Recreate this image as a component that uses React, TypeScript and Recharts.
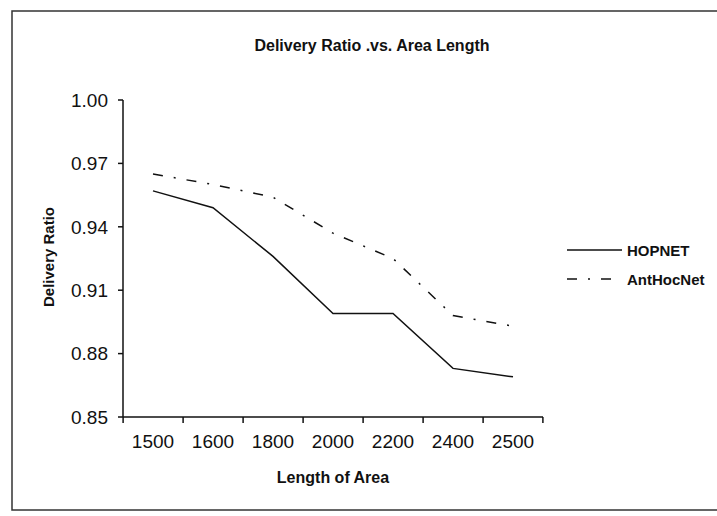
import React from 'react';
import { LineChart, Line, XAxis, YAxis, Customized } from 'recharts';

const lengths = ['1500', '1600', '1800', '2000', '2200', '2400', '2500'];
const hopnet = [0.957, 0.949, 0.926, 0.899, 0.899, 0.873, 0.869];
const antHocNet = [0.965, 0.96, 0.954, 0.937, 0.925, 0.898, 0.893];
const yTicks = [0.85, 0.88, 0.91, 0.94, 0.97, 1.0];
const seriesNames = ['HOPNET', 'AntHocNet'];
const chartTitle = 'Delivery Ratio .vs. Area Length';
const xTitle = 'Length of Area';
const yTitle = 'Delivery Ratio';

const data = lengths.map((l, i) => ({ length: l, hopnet: hopnet[i], anthocnet: antHocNet[i] }));

const W = 717;
const H = 516;
const FONT = '"Liberation Sans", Arial, sans-serif';
const DASH = '10 11 2 11';
const INK = '#111';

function XTick(props: any) {
  const { x, y, payload, index } = props;
  const half = 29.9;
  const last = index === lengths.length - 1;
  return (
    <g>
      <line x1={x - half} x2={x - half} y1={y} y2={y + 6} stroke={INK} strokeWidth={1.5} />
      {last && <line x1={x + half} x2={x + half} y1={y} y2={y + 6} stroke={INK} strokeWidth={1.5} />}
      <text x={x} y={y + 31} textAnchor="middle" fontSize={19} fontFamily={FONT} fill={INK}>
        {payload.value}
      </text>
    </g>
  );
}

function Decor() {
  return (
    <g>
      <rect x={12} y={11} width={760} height={499} fill="none" stroke="#333" strokeWidth={1.5} />
      <text x={372} y={51} textAnchor="middle" fontSize={16} fontWeight="bold" fontFamily={FONT} fill={INK}>
        {chartTitle}
      </text>
      <text x={333} y={483} textAnchor="middle" fontSize={16} fontWeight="bold" fontFamily={FONT} fill={INK}>
        {xTitle}
      </text>
      <text
        x={48}
        y={257}
        textAnchor="middle"
        dominantBaseline="central"
        transform="rotate(-90 48 257)"
        fontSize={15}
        fontWeight="bold"
        fontFamily={FONT}
        fill={INK}
      >
        {yTitle}
      </text>
      <line x1={567} x2={622} y1={250} y2={250} stroke={INK} strokeWidth={1.5} />
      <text x={627} y={256} fontSize={15} fontWeight="bold" fontFamily={FONT} fill={INK}>
        {seriesNames[0]}
      </text>
      <line x1={567} x2={612} y1={279} y2={279} stroke={INK} strokeWidth={1.5} strokeDasharray={DASH} />
      <text x={627} y={285} fontSize={15} fontWeight="bold" fontFamily={FONT} fill={INK}>
        {seriesNames[1]}
      </text>
    </g>
  );
}

export default function App() {
  return (
    <div style={{ position: 'absolute', left: 0, top: 0, width: W, height: H, overflow: 'hidden', background: '#fff' }}>
      <LineChart width={W} height={H} data={data} margin={{ top: 100, right: 174, bottom: 69, left: 0 }}>
        <XAxis
          dataKey="length"
          type="category"
          padding={{ left: 30, right: 30 }}
          tickLine={false}
          tickSize={0}
          tickMargin={0}
          interval={0}
          height={30}
          axisLine={{ stroke: INK, strokeWidth: 1.5 }}
          tick={<XTick />}
        />
        <YAxis
          domain={[0.85, 1.0]}
          ticks={yTicks}
          type="number"
          width={123}
          tickSize={5}
          tickMargin={10}
          tickFormatter={(v: number) => v.toFixed(2)}
          tick={{ fontSize: 19, fill: INK, fontFamily: FONT }}
          tickLine={{ stroke: INK, strokeWidth: 1.5 }}
          axisLine={{ stroke: INK, strokeWidth: 1.5 }}
          allowDataOverflow
        />
        <Line
          type="linear"
          dataKey="hopnet"
          name={seriesNames[0]}
          stroke={INK}
          strokeWidth={1.5}
          dot={false}
          isAnimationActive={false}
        />
        <Line
          type="linear"
          dataKey="anthocnet"
          name={seriesNames[1]}
          stroke={INK}
          strokeWidth={1.5}
          strokeDasharray={DASH}
          dot={false}
          isAnimationActive={false}
        />
        <Customized component={Decor} />
      </LineChart>
    </div>
  );
}
